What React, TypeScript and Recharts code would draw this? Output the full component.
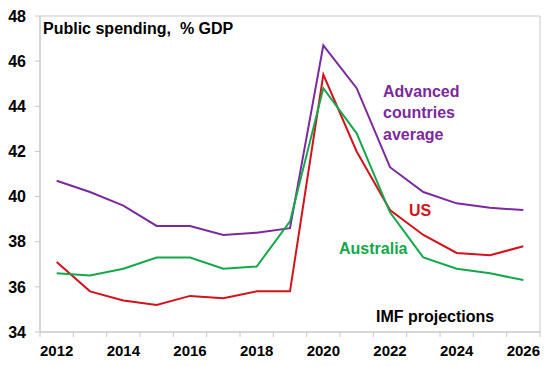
import { LineChart, Line, XAxis, YAxis, ReferenceArea, Customized } from 'recharts';

const years = [2012, 2013, 2014, 2015, 2016, 2017, 2018, 2019, 2020, 2021, 2022, 2023, 2024, 2025, 2026];
const advanced = [40.7, 40.2, 39.6, 38.7, 38.7, 38.3, 38.4, 38.6, 46.7, 44.8, 41.3, 40.2, 39.7, 39.5, 39.4];
const us = [37.1, 35.8, 35.4, 35.2, 35.6, 35.5, 35.8, 35.8, 45.4, 42.0, 39.4, 38.3, 37.5, 37.4, 37.8];
const australia = [36.6, 36.5, 36.8, 37.3, 37.3, 36.8, 36.9, 38.9, 44.8, 42.8, 39.3, 37.3, 36.8, 36.6, 36.3];

const yTicks = [34, 36, 38, 40, 42, 44, 46, 48];
// tick marks sit on the boundaries between years
const xBoundaries = [2011.5, 2012.5, 2013.5, 2014.5, 2015.5, 2016.5, 2017.5, 2018.5, 2019.5, 2020.5, 2021.5, 2022.5, 2023.5, 2024.5, 2025.5, 2026.5];

const data = years.map((y, i) => ({ year: y, advanced: advanced[i], us: us[i], australia: australia[i] }));

const W = 548;
const H = 366;
const margin = { top: 16, right: 8, left: 0, bottom: 0 };
const yAxisWidth = 40;
const halfStep = (W - margin.left - margin.right - yAxisWidth) / years.length / 2;

const PURPLE = '#7B2A9B';
const RED = '#D3121C';
const GREEN = '#13A84B';
const AXIS = '#c8c8c8';
const FONT = '"Liberation Sans", Arial, sans-serif';

function YearTick(props: any) {
  const { x, y, payload } = props;
  const yr = payload.value + 0.5;
  if (yr % 2 !== 0 || yr > 2026) return null;
  return (
    <text x={x + halfStep} y={y} dy="0.71em" textAnchor="middle" fontFamily={FONT} fontWeight="bold" fontSize={15} fill="#000">
      {yr}
    </text>
  );
}

function Notes() {
  const t = { fontFamily: FONT, fontWeight: 'bold' as const, fontSize: 16 };
  return (
    <g>
      <text x={43} y={34} {...t} fill="#000" style={{ whiteSpace: 'pre' }}>Public spending,  % GDP</text>
      <text x={383} y={96.5} {...t} fill={PURPLE}>Advanced</text>
      <text x={383} y={118} {...t} fill={PURPLE}>countries</text>
      <text x={383} y={139.5} {...t} fill={PURPLE}>average</text>
      <text x={409} y={215.5} {...t} fill={RED}>US</text>
      <text x={339} y={254} {...t} fill={GREEN}>Australia</text>
      <text x={376} y={321.5} {...t} fill="#000">IMF projections</text>
    </g>
  );
}

export default function App() {
  return (
    <div style={{ position: 'absolute', left: 0, top: 0, width: W, height: H, background: '#fff' }}>
      <LineChart width={W} height={H} data={data} margin={margin}>
        <XAxis
          dataKey="year"
          type="number"
          domain={[2011.5, 2026.5]}
          ticks={xBoundaries}
          interval={0}
          height={34}
          stroke={AXIS}
          tickSize={5}
          tickMargin={8}
          tick={<YearTick />}
        />
        <YAxis
          domain={[34, 48]}
          ticks={yTicks}
          interval={0}
          width={yAxisWidth}
          stroke={AXIS}
          tickSize={5}
          tickMargin={9}
          tick={{ fill: '#000', fontFamily: FONT, fontWeight: 'bold', fontSize: 16 }}
        />
        <ReferenceArea x1={2011.5} x2={2026.5} y1={34} y2={48} fill="none" stroke={AXIS} strokeWidth={1} />
        <Line dataKey="advanced" stroke={PURPLE} strokeWidth={2} dot={false} isAnimationActive={false} />
        <Line dataKey="us" stroke={RED} strokeWidth={2} dot={false} isAnimationActive={false} />
        <Line dataKey="australia" stroke={GREEN} strokeWidth={2} dot={false} isAnimationActive={false} />
        <Customized component={<Notes />} />
      </LineChart>
    </div>
  );
}
